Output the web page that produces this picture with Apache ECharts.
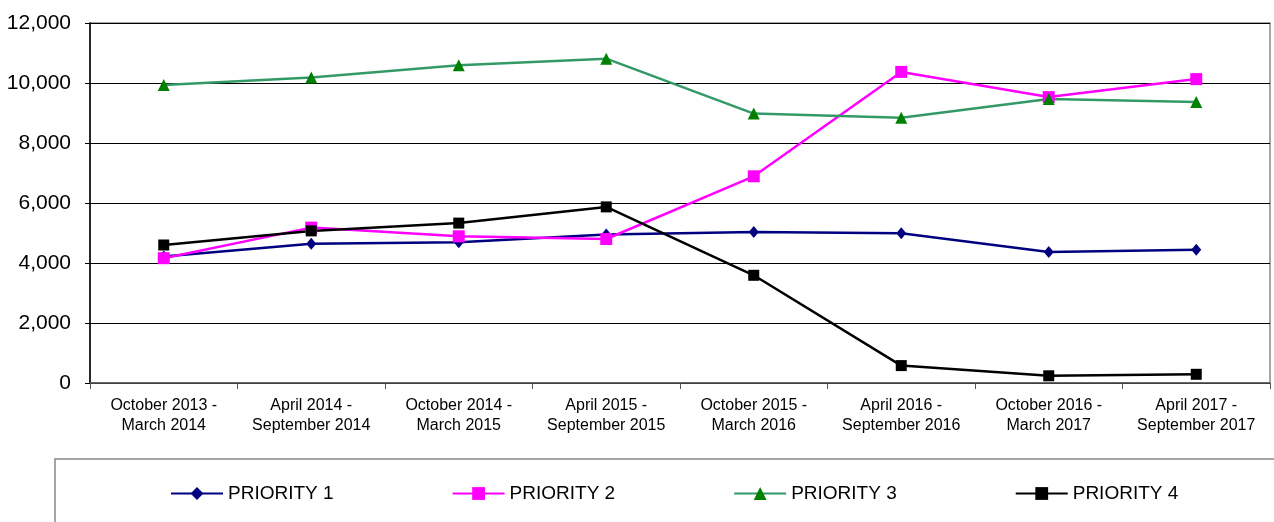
<!DOCTYPE html>
<html>
<head>
<meta charset="utf-8">
<script src="https://cdn.jsdelivr.net/npm/echarts@6/dist/echarts.min.js"></script>
<style>
  html, body { margin: 0; padding: 0; background: #fff; }
  #chart { width: 1274px; height: 522px; }
</style>
</head>
<body>
<div id="chart"></div>
<script>
// periods on the x axis
var categories = [
  "October 2013 -\nMarch 2014",
  "April 2014 -\nSeptember 2014",
  "October 2014 -\nMarch 2015",
  "April 2015 -\nSeptember 2015",
  "October 2015 -\nMarch 2016",
  "April 2016 -\nSeptember 2016",
  "October 2016 -\nMarch 2017",
  "April 2017 -\nSeptember 2017"
];
// values
var priority1 = [4220, 4640, 4690, 4950, 5030, 4990, 4370, 4440];
var priority2 = [4160, 5180, 4890, 4800, 6890, 10370, 9530, 10130];
var priority3 = [9930, 10180, 10590, 10810, 8980, 8840, 9470, 9370];
var priority4 = [4600, 5070, 5330, 5870, 3590, 580, 240, 290];

var chart = echarts.init(document.getElementById("chart"));

function lineSeries(name, data, color, markColor, symbol, size) {
  return {
    name: name,
    type: "line",
    data: data,
    symbol: symbol,
    symbolSize: size,
    showAllSymbol: true,
    lineStyle: { color: color, width: 2.5 },
    itemStyle: { color: markColor, borderWidth: 0 },
    emphasis: { disabled: true }
  };
}

chart.setOption({
  animation: false,
  textStyle: { fontFamily: "Liberation Sans, Arial, sans-serif", color: "#000" },
  grid: {
    left: 90,
    right: 4,
    top: 23,
    bottom: 139,
    show: true,
    borderColor: "#888",
    borderWidth: 1.5
  },
  graphic: [
    {
      type: "rect",
      shape: { x: 55, y: 459, width: 1300, height: 120 },
      style: { fill: "none", stroke: "#888", lineWidth: 1.5 },
      silent: true
    }
  ],
  legend: {
    left: 170,
    top: 484,
    padding: 0,
    itemWidth: 52,
    itemHeight: 16,
    itemGap: 118,
    textStyle: { fontSize: 19, color: "#000", padding: [0, 0, 0, 0] },
    data: ["PRIORITY 1", "PRIORITY 2", "PRIORITY 3", "PRIORITY 4"]
  },
  xAxis: {
    type: "category",
    data: categories,
    boundaryGap: true,
    axisLine: { lineStyle: { color: "#555", width: 1.5 } },
    axisTick: { show: true, length: 6, lineStyle: { color: "#555" } },
    axisLabel: { fontSize: 16, lineHeight: 20, color: "#000", margin: 13, interval: 0 }
  },
  yAxis: {
    type: "value",
    min: 0,
    max: 12000,
    interval: 2000,
    axisLine: { show: true, lineStyle: { color: "#000", width: 1.5 } },
    axisTick: { show: true, length: 5, lineStyle: { color: "#000" } },
    axisLabel: {
      fontSize: 21,
      color: "#000",
      margin: 19,
      formatter: function (v) { return v.toLocaleString("en-US"); }
    },
    splitLine: { lineStyle: { color: "#000", width: 1 } }
  },
  series: [
    lineSeries("PRIORITY 1", priority1, "#000080", "#000080", "diamond", [10, 12]),
    lineSeries("PRIORITY 2", priority2, "#FF00FF", "#FF00FF", "rect", 12),
    lineSeries("PRIORITY 3", priority3, "#339966", "#008000", "triangle", 12),
    lineSeries("PRIORITY 4", priority4, "#000000", "#000000", "rect", 11)
  ]
});
</script>
</body>
</html>
